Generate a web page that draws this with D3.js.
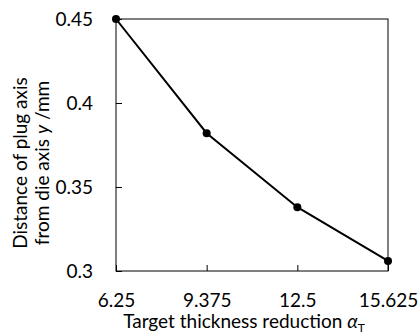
<!DOCTYPE html>
<html>
<head>
<meta charset="utf-8">
<script src="https://cdn.jsdelivr.net/npm/d3@7"></script>
<style>
  body { margin: 0; background: #fff; }
  text { font-family: Lato, "Open Sans", sans-serif; fill: #000; }
</style>
</head>
<body>
<div id="chart"></div>
<script>
// data
const reductions = [6.25, 9.375, 12.5, 15.625];
const distances = [0.45, 0.382, 0.338, 0.306];
const xTicks = [6.25, 9.375, 12.5, 15.625];
const yTicks = [0.3, 0.35, 0.4, 0.45];

const svgWidth = 419, svgHeight = 336;
const margin = { top: 19, right: 31, bottom: 65, left: 116 };
const chartWidth = svgWidth - margin.left - margin.right;
const chartHeight = svgHeight - margin.top - margin.bottom;
const fontSize = 19;

const svg = d3.select('#chart').append('svg')
    .attr('width', svgWidth)
    .attr('height', svgHeight);

const chart = svg.append('g')
    .attr('transform', `translate(${margin.left},${margin.top})`);

const xScale = d3.scaleLinear().domain([6.25, 15.625]).range([0, chartWidth]);
const yScale = d3.scaleLinear().domain([0.3, 0.45]).range([chartHeight, 0]);

// frame
chart.append('rect')
    .attr('width', chartWidth)
    .attr('height', chartHeight)
    .attr('fill', 'none')
    .attr('stroke', '#000')
    .attr('stroke-width', 1);

const xAxis = d3.axisBottom(xScale).tickValues(xTicks).tickSize(-6).tickPadding(23)
    .tickFormat(d => String(d));
const yAxis = d3.axisLeft(yScale).tickValues(yTicks).tickSize(-6).tickPadding(23)
    .tickFormat(d => String(d));

const xAxisWrap = chart.append('g')
    .attr('transform', `translate(0,${chartHeight})`)
    .call(xAxis);
const yAxisWrap = chart.append('g').call(yAxis);

[xAxisWrap, yAxisWrap].forEach(g => {
    g.selectAll('.domain').remove();
    g.selectAll('.tick line').attr('stroke', '#000');
    g.selectAll('text')
        .attr('font-size', fontSize)
        .attr('font-family', 'Lato, sans-serif')
        .attr('fill', '#000');
});
xAxisWrap.selectAll('text').attr('dy', 0).attr('y', 36);

// line and markers
const points = reductions.map((x, i) => ({ x, y: distances[i] }));

chart.append('path')
    .datum(points)
    .attr('fill', 'none')
    .attr('stroke', '#000')
    .attr('stroke-width', 2)
    .attr('d', d3.line().x(d => xScale(d.x)).y(d => yScale(d.y)));

chart.selectAll('.pt')
    .data(points)
    .enter().append('circle')
    .attr('class', 'pt')
    .attr('cx', d => xScale(d.x))
    .attr('cy', d => yScale(d.y))
    .attr('r', 4)
    .attr('fill', '#000');

// x axis title
const xTitle = svg.append('text')
    .attr('x', 244)
    .attr('y', 328)
    .attr('text-anchor', 'middle')
    .attr('font-size', fontSize);
xTitle.append('tspan').text('Target thickness reduction ');
xTitle.append('tspan').attr('font-style', 'italic').text('α');
xTitle.append('tspan').attr('font-size', 12).attr('dy', 4).text('T');

// y axis title (two lines)
const yTitle = svg.append('text')
    .attr('transform', 'translate(27,163) rotate(-90)')
    .attr('text-anchor', 'middle')
    .attr('font-size', fontSize);
yTitle.append('tspan').attr('x', 0).attr('dy', 0).text('Distance of plug axis');
const line2 = yTitle.append('tspan').attr('x', 0).attr('dy', 22);
line2.append('tspan').text('from die axis ');
line2.append('tspan').attr('font-style', 'italic').text('y');
line2.append('tspan').text(' /mm');
</script>
</body>
</html>
